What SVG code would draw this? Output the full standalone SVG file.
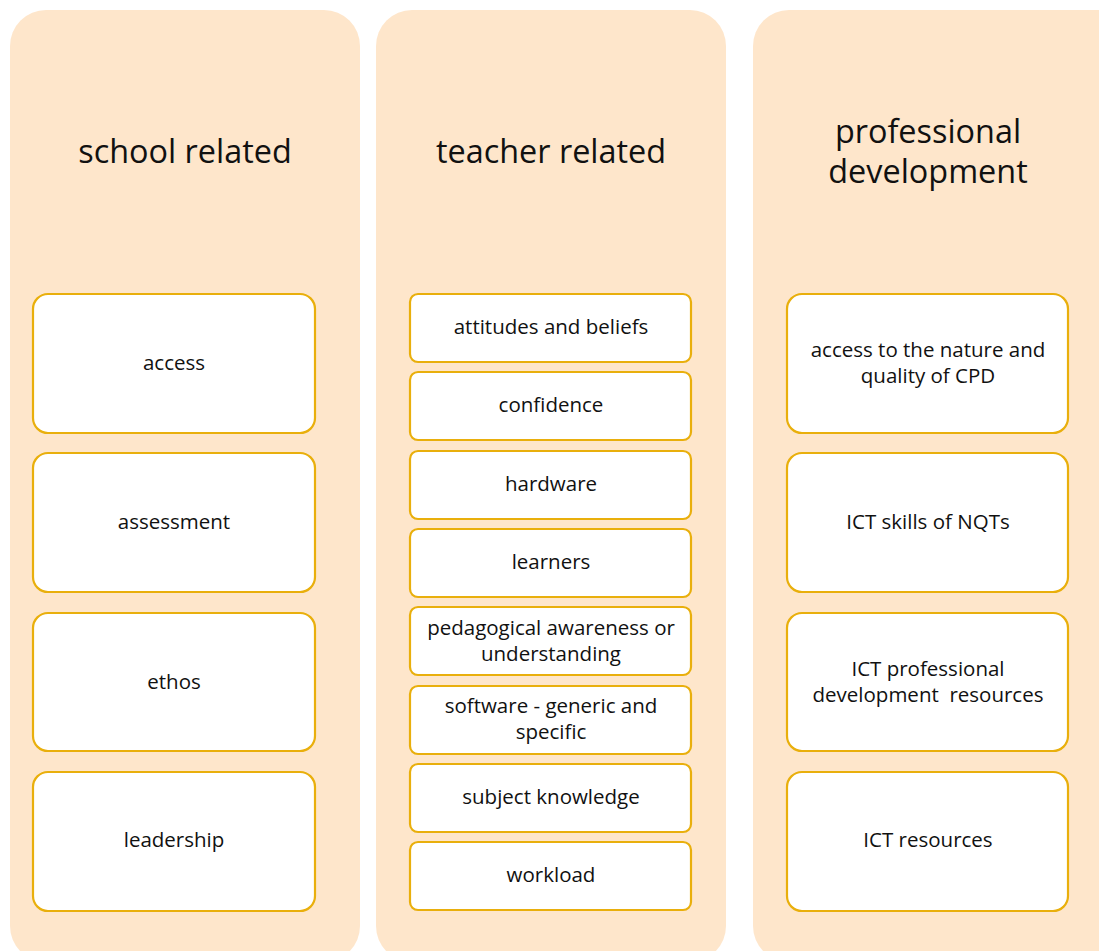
<svg xmlns="http://www.w3.org/2000/svg" width="1099" height="951" viewBox="0 0 1099 951">
<style>
.panel{fill:#FEE6CB;}
.box{fill:#FFFFFF;stroke:#E9AF0C;stroke-width:2.2;}
.title{font-family:"Open Sans","Liberation Sans",sans-serif;font-size:32.4px;fill:#111;text-anchor:middle;}
.lbl{font-family:"Open Sans","Liberation Sans",sans-serif;font-size:20.5px;fill:#111;text-anchor:middle;}
</style>
<rect width="1099" height="951" fill="#FFFFFF"/>
<g id="panel-school">
<rect class="panel" x="10" y="10" width="350" height="952" rx="36"/>
<text class="title" x="185" y="163">school related</text>
</g>
<g id="panel-teacher">
<rect class="panel" x="376" y="10" width="350" height="952" rx="36"/>
<text class="title" x="551" y="163">teacher related</text>
</g>
<g id="panel-pd">
<rect class="panel" x="753" y="10" width="380" height="952" rx="36"/>
<text class="title" x="928" y="143">professional</text>
<text class="title" x="928" y="183">development</text>
</g>
<g id="n-access"><rect class="box" x="33" y="294" width="282" height="139" rx="15"/><text class="lbl" x="174" y="370">access</text></g>
<g id="n-assessment"><rect class="box" x="33" y="453" width="282" height="139" rx="15"/><text class="lbl" x="174" y="529">assessment</text></g>
<g id="n-ethos"><rect class="box" x="33" y="613" width="282" height="138" rx="15"/><text class="lbl" x="174" y="689">ethos</text></g>
<g id="n-leadership"><rect class="box" x="33" y="772" width="282" height="139" rx="15"/><text class="lbl" x="174" y="847">leadership</text></g>
<g id="n-attitudes"><rect class="box" x="410" y="294" width="281" height="68" rx="8"/><text class="lbl" x="551" y="334">attitudes and beliefs</text></g>
<g id="n-confidence"><rect class="box" x="410" y="372" width="281" height="68" rx="8"/><text class="lbl" x="551" y="412">confidence</text></g>
<g id="n-hardware"><rect class="box" x="410" y="451" width="281" height="68" rx="8"/><text class="lbl" x="551" y="491">hardware</text></g>
<g id="n-learners"><rect class="box" x="410" y="529" width="281" height="68" rx="8"/><text class="lbl" x="551" y="569">learners</text></g>
<g id="n-pedagogical"><rect class="box" x="410" y="607" width="281" height="68" rx="8"/><text class="lbl" x="551" y="635">pedagogical awareness or</text><text class="lbl" x="551" y="661">understanding</text></g>
<g id="n-software"><rect class="box" x="410" y="686" width="281" height="68" rx="8"/><text class="lbl" x="551" y="713">software - generic and</text><text class="lbl" x="551" y="739">specific</text></g>
<g id="n-subject"><rect class="box" x="410" y="764" width="281" height="68" rx="8"/><text class="lbl" x="551" y="804">subject knowledge</text></g>
<g id="n-workload"><rect class="box" x="410" y="842" width="281" height="68" rx="8"/><text class="lbl" x="551" y="882">workload</text></g>
<g id="n-cpd"><rect class="box" x="787" y="294" width="281" height="139" rx="15"/><text class="lbl" x="928" y="357">access to the nature and</text><text class="lbl" x="928" y="383">quality of CPD</text></g>
<g id="n-nqt"><rect class="box" x="787" y="453" width="281" height="139" rx="15"/><text class="lbl" x="928" y="529">ICT skills of NQTs</text></g>
<g id="n-pdres"><rect class="box" x="787" y="613" width="281" height="138" rx="15"/><text class="lbl" x="928" y="676">ICT professional</text><text class="lbl" x="928" y="702" xml:space="preserve">development  resources</text></g>
<g id="n-ictres"><rect class="box" x="787" y="772" width="281" height="139" rx="15"/><text class="lbl" x="928" y="847">ICT resources</text></g>
<g id="connectors"></g>
</svg>
